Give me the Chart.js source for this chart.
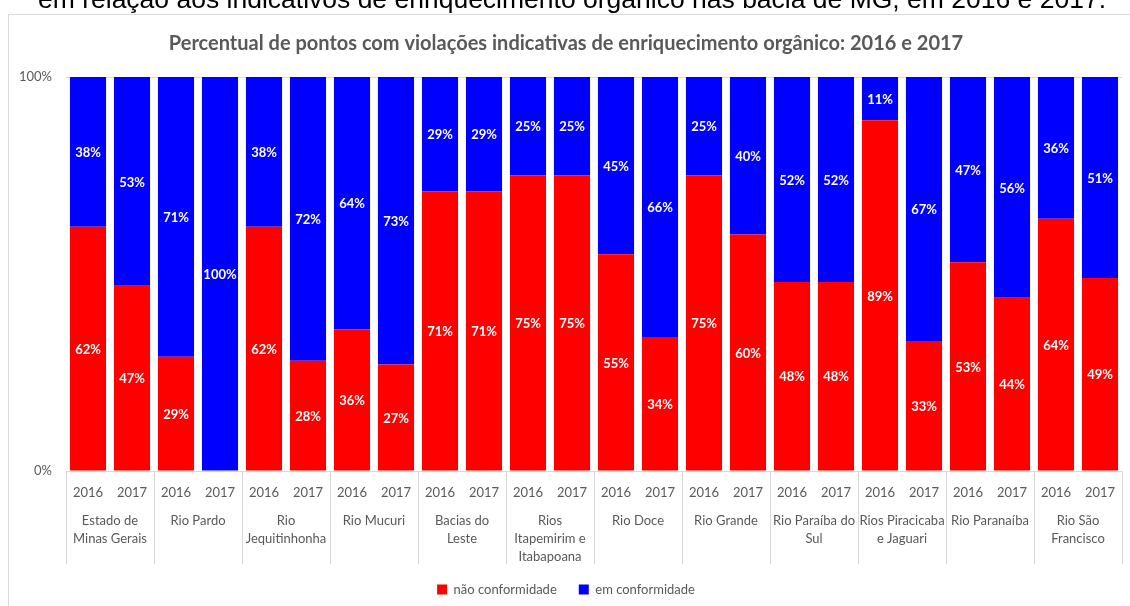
<!DOCTYPE html>
<html>
<head>
<meta charset="utf-8">
<script src="https://cdn.jsdelivr.net/npm/chart.js@4"></script>
<style>
    body { margin: 0; background: #fff; }
    #wrap { position: relative; width: 1130px; height: 606px; overflow: hidden; }
    #heading {
        position: absolute; left: 38px; top: -14px;
        font-family: "Liberation Sans", Arial, sans-serif; font-size: 26.5px;
        line-height: 26.5px; color: #000; white-space: nowrap;
    }
</style>
</head>
<body>
<div id="wrap">
    <canvas id="chart" width="1130" height="606"></canvas>
    <div id="heading">em relação aos indicativos de enriquecimento orgânico nas bacia de MG, em 2016 e 2017.</div>
</div>
<script>
const groups = [
    ['Estado de', 'Minas Gerais'], ['Rio Pardo'], ['Rio', 'Jequitinhonha'], ['Rio Mucuri'],
    ['Bacias do', 'Leste'], ['Rios', 'Itapemirim e', 'Itabapoana'], ['Rio Doce'], ['Rio Grande'],
    ['Rio Paraíba do', 'Sul'], ['Rios Piracicaba', 'e Jaguari'], ['Rio Paranaíba'], ['Rio São', 'Francisco']
];
const years = ['2016', '2017'];
const naoConformidade = [62, 47, 29, 0, 62, 28, 36, 27, 71, 71, 75, 75, 55, 34, 75, 60, 48, 48, 89, 33, 53, 44, 64, 49];
const emConformidade = [38, 53, 71, 100, 38, 72, 64, 73, 29, 29, 25, 25, 45, 66, 25, 40, 52, 52, 11, 67, 47, 56, 36, 51];
const yTicks = [0, 100];

const labels = [];
groups.forEach(() => years.forEach(y => labels.push(y)));

const fontFamily = 'Lato, "Open Sans", sans-serif';
const textGray = '#595959';
const lineGray = '#d9d9d9';

// white box with thin border, like the Excel chart area
const boxPlugin = {
    id: 'box',
    beforeDraw(chart) {
        const ctx = chart.ctx;
        ctx.save();
        ctx.fillStyle = '#fff';
        ctx.fillRect(0, 0, chart.width, chart.height);
        ctx.strokeStyle = lineGray;
        ctx.lineWidth = 1;
        ctx.strokeRect(8.5, 14.5, chart.width + 10, chart.height + 10);
        ctx.restore();
    }
};

// percentage labels in the middle of each segment
const valueLabels = {
    id: 'valueLabels',
    afterDatasetsDraw(chart) {
        const ctx = chart.ctx;
        ctx.save();
        ctx.font = 'bold 13px ' + fontFamily;
        ctx.fillStyle = '#fff';
        ctx.textAlign = 'center';
        ctx.textBaseline = 'middle';
        chart.data.datasets.forEach((ds, i) => {
            chart.getDatasetMeta(i).data.forEach((bar, j) => {
                const v = ds.data[j];
                if (!v) return;
                ctx.fillText(v + '%', bar.x, (bar.y + bar.base) / 2 + 1);
            });
        });
        ctx.restore();
    }
};

// second row of the category axis: basin names and separators
const groupAxis = {
    id: 'groupAxis',
    afterDraw(chart) {
        const ctx = chart.ctx;
        const x = chart.scales.x;
        const step = x.getPixelForValue(1) - x.getPixelForValue(0);
        const top = chart.chartArea.bottom;
        ctx.save();
        ctx.strokeStyle = lineGray;
        ctx.lineWidth = 1;
        ctx.font = '13px ' + fontFamily;
        ctx.fillStyle = textGray;
        ctx.textAlign = 'center';
        ctx.textBaseline = 'middle';
        groups.forEach((name, g) => {
            const left = Math.round(x.getPixelForValue(g * 2) - step / 2) + 0.5;
            ctx.beginPath();
            ctx.moveTo(left, top);
            ctx.lineTo(left, top + 93);
            ctx.stroke();
            const cx = (x.getPixelForValue(g * 2) + x.getPixelForValue(g * 2 + 1)) / 2;
            name.forEach((line, k) => ctx.fillText(line, cx, top + 50 + k * 18));
        });
        const end = Math.round(x.getPixelForValue(labels.length - 1) + step / 2) + 0.5;
        ctx.beginPath();
        ctx.moveTo(end, top);
        ctx.lineTo(end, top + 93);
        ctx.stroke();
        ctx.restore();
    }
};

new Chart(document.getElementById('chart'), {
    type: 'bar',
    data: {
        labels: labels,
        datasets: [
            { label: 'não conformidade', data: naoConformidade, backgroundColor: '#ff0000' },
            { label: 'em conformidade', data: emConformidade, backgroundColor: '#0000ff' }
        ]
    },
    options: {
        responsive: false,
        animation: false,
        devicePixelRatio: 1,
        layout: { padding: { left: 10, right: 8, top: 0, bottom: 0 } },
        datasets: { bar: { categoryPercentage: 1, barPercentage: 0.82 } },
        plugins: {
            title: {
                display: true,
                text: 'Percentual de pontos com violações indicativas de enriquecimento orgânico: 2016 e 2017',
                color: textGray,
                font: { family: fontFamily, size: 20, weight: 'bold' },
                padding: { top: 32, bottom: 21 }
            },
            legend: {
                position: 'bottom',
                labels: {
                    color: textGray,
                    font: { family: fontFamily, size: 13 },
                    boxWidth: 10, boxHeight: 10, padding: 22
                }
            },
            tooltip: { enabled: false }
        },
        scales: {
            x: {
                stacked: true,
                grid: { display: false },
                border: { color: lineGray },
                ticks: { color: textGray, font: { family: fontFamily, size: 13 }, padding: 6, maxRotation: 0, autoSkip: false },
                afterFit(scale) { scale.height = 90; }
            },
            y: {
                stacked: true,
                min: 0,
                max: 100,
                grid: { color: lineGray, drawTicks: false },
                border: { display: false },
                afterBuildTicks(scale) { scale.ticks = yTicks.map(v => ({ value: v })); },
                ticks: {
                    color: textGray,
                    font: { family: fontFamily, size: 13 },
                    padding: 14,
                    callback: v => v + '%'
                },
                afterFit(scale) { scale.width = 56; }
            }
        }
    },
    plugins: [boxPlugin, valueLabels, groupAxis]
});
</script>
</body>
</html>
